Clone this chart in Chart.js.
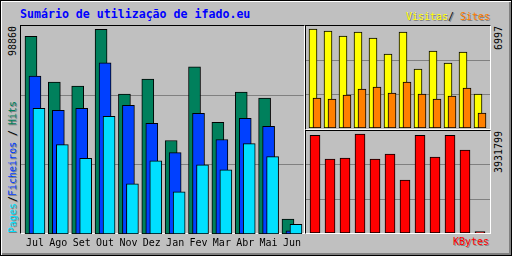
<!DOCTYPE html>
<html>
<head>
<meta charset="utf-8">
<script src="https://cdn.jsdelivr.net/npm/chart.js@4.4.1/dist/chart.umd.min.js"></script>
<style>
html, body { margin: 0; padding: 0; background: #c0c0c0; }
#frame { position: absolute; left: 0; top: 0; width: 512px; height: 256px; box-sizing: border-box;
  background: #c0c0c0; border: 1px solid #000;
  box-shadow: inset 1px 1px 0 0 #fff, inset -2px -2px 0 0 #808080; }
.panel { position: absolute; box-sizing: border-box;
  border-top: 1px solid #000; border-left: 1px solid #000;
  border-right: 1px solid #fff; border-bottom: 1px solid #fff; }
canvas { position: absolute; }
.t { position: absolute; font-family: 'DejaVu Sans Mono', monospace; font-size: 10px;
  line-height: 10px; white-space: nowrap; }
.sh { text-shadow: 1px 1px 0 #808080; }
.up { transform: rotate(-90deg); transform-origin: 0 0; }
.up.sh { text-shadow: -1px 1px 0 #808080; }
#title { font-size: 11.6px; line-height: 11.6px; font-weight: bold; color: #0000ff; }
</style>
</head>
<body>
<div id="frame"></div>
<div class="panel" style="left:20px;top:25px;width:285px;height:209px"></div>
<div class="panel" style="left:305px;top:25px;width:186px;height:105px"></div>
<div class="panel" style="left:305px;top:130px;width:186px;height:104px"></div>

<canvas id="main" width="283" height="226" style="left:21px;top:26px;width:283px;height:226px"></canvas>
<canvas id="visChart" width="184" height="102" style="left:306px;top:26px;width:184px;height:102px"></canvas>
<canvas id="kbChart" width="184" height="102" style="left:306px;top:131px;width:184px;height:102px"></canvas>

<div class="t" id="title" style="left:20px;top:9px">Sumário de utilização de ifado.eu</div>

<div class="t sh" style="left:406px;top:11.5px;color:#ffff00">Visitas</div>
<div class="t sh" style="left:448px;top:11.5px;color:#000">/</div>
<div class="t sh" style="left:460px;top:11.5px;color:#ff8000">Sites</div>
<div class="t sh" style="left:453px;top:237px;color:#ff0000">KBytes</div>

<div class="t up" style="left:8px;top:56px;color:#000">98860</div>
<div class="t up" style="left:493.5px;top:50px;color:#000">6997</div>
<div class="t up" style="left:493.5px;top:173px;color:#000">3931799</div>

<div class="t up sh" style="left:8px;top:233px;color:#00e0ff">Pages</div>
<div class="t up sh" style="left:8px;top:202px;color:#000">/</div>
<div class="t up sh" style="left:8px;top:195.5px;color:#0040ff">Ficheiros</div>
<div class="t up sh" style="left:8px;top:136px;color:#000">/</div>
<div class="t up sh" style="left:8px;top:125px;color:#00805c">Hits</div>

<script>
var months = ["Jul", "Ago", "Set", "Out", "Nov", "Dez", "Jan", "Fev", "Mar", "Abr", "Mai", "Jun"];

var hits = [95450, 73390, 71440, 98860, 67550, 74850, 45140, 80700, 53910, 68520, 65600, 7160];
var files = [76310, 59750, 60730, 82640, 62190, 53420, 39300, 58290, 45630, 55860, 51960, 1500];
var pages = [60730, 43200, 36520, 56830, 24200, 35400, 20310, 33460, 31020, 43680, 37350, 4720];

var visits = [6997, 6856, 6502, 6785, 6361, 5230, 6785, 4170, 5442, 4594, 5371, 2403];
var sites = [2120, 2050, 2332, 2756, 2898, 2474, 3251, 2403, 2050, 2262, 2827, 1060];

var kbytes = [3880000, 2939000, 2979000, 3931799, 2939000, 3137000, 2105000, 3880000, 3018000, 3880000, 3296000, 60000];

// top of each panel's value range (max value sits a little under the frame)
var mainMax = 100460;
var visMax = 7209;
var kbMax = 4050950;

Chart.defaults.font.family = "'DejaVu Sans Mono', monospace";
Chart.defaults.font.size = 10;

function bars(vals, off, color, order, thick) {
    return {
        data: vals.map(function (v, i) { return { x: i + off, y: v }; }),
        backgroundColor: color,
        borderColor: "#000",
        borderWidth: 1,
        borderSkipped: false,
        barThickness: thick,
        grouped: false,
        order: order
    };
}

function yAxis(max) {
    return {
        display: true,
        min: 0,
        max: max,
        afterBuildTicks: function (s) { s.ticks = [{ value: max / 3 }, { value: max * 2 / 3 }]; },
        ticks: { display: false },
        grid: { color: "#808080", drawTicks: false },
        border: { display: false }
    };
}

function baseOptions() {
    return {
        responsive: false,
        animation: false,
        devicePixelRatio: 1,
        events: [],
        layout: { padding: 0 },
        plugins: { legend: { display: false }, tooltip: { enabled: false } }
    };
}

// hits / files / pages
var mainOpts = baseOptions();
mainOpts.scales = {
    x: {
        type: "linear",
        offset: false,
        min: -0.598,
        max: 11.496,
        afterBuildTicks: function (s) { s.ticks = months.map(function (m, i) { return { value: i }; }); },
        ticks: {
            color: "#000",
            autoSkip: false,
            maxRotation: 0,
            padding: 3,
            callback: function (v) { return months[v]; }
        },
        grid: { display: false, drawTicks: false },
        border: { display: false }
    },
    y: yAxis(mainMax)
};

let mainChart = new Chart(document.getElementById("main").getContext("2d"), {
    type: "bar",
    data: {
        datasets: [
            bars(hits, -0.171, "#00805c", 3, 12),
            bars(files, 0, "#0040ff", 2, 12),
            bars(pages, 0.171, "#00e0ff", 1, 12)
        ]
    },
    options: mainOpts
});

// visits / sites
var visOpts = baseOptions();
visOpts.scales = {
    x: { type: "linear", offset: false, display: false, min: -0.6, max: -0.6 + 184 / 15 },
    y: yAxis(visMax)
};

let visChart = new Chart(document.getElementById("visChart").getContext("2d"), {
    type: "bar",
    data: {
        datasets: [
            bars(visits, -2 / 15, "#ffff00", 2, 8),
            bars(sites, 2 / 15, "#ff8000", 1, 8)
        ]
    },
    options: visOpts
});

// kbytes
var kbOpts = baseOptions();
kbOpts.scales = {
    x: { type: "linear", offset: false, display: false, min: -0.6, max: -0.6 + 184 / 15 },
    y: yAxis(kbMax)
};

let kbChart = new Chart(document.getElementById("kbChart").getContext("2d"), {
    type: "bar",
    data: {
        datasets: [
            bars(kbytes, 0, "#ff0000", 1, 10)
        ]
    },
    options: kbOpts
});
</script>
</body>
</html>
